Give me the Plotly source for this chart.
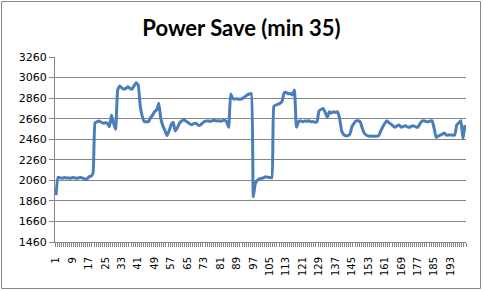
import plotly.graph_objects as go

title_text = "Power Save (min 35)"
categories = list(range(1, 201))
values = [
    1917, 2090, 2085, 2080, 2088, 2082, 2085, 2080, 2088, 2085,
    2080, 2085, 2088, 2082, 2075, 2068, 2095, 2100, 2130, 2620,
    2630, 2637, 2625, 2615, 2620, 2615, 2582, 2695, 2615, 2556,
    2939, 2978, 2960, 2946, 2955, 2970, 2955, 2946, 2980, 3010,
    2985, 2780, 2680, 2630, 2630, 2630, 2670, 2695, 2730, 2745,
    2810, 2660, 2590, 2545, 2494, 2540, 2598, 2625, 2540, 2570,
    2615, 2635, 2647, 2640, 2625, 2610, 2601, 2612, 2615, 2600,
    2595, 2612, 2630, 2635, 2640, 2632, 2640, 2645, 2638, 2640,
    2635, 2640, 2645, 2630, 2576, 2900, 2858, 2850, 2855, 2848,
    2850, 2860, 2875, 2890, 2900, 2906, 1900, 2030, 2060, 2075,
    2080, 2085, 2095, 2090, 2088, 2085, 2780, 2793, 2800, 2810,
    2830, 2910, 2916, 2900, 2906, 2890, 2940, 2576, 2630, 2640,
    2630, 2638, 2635, 2640, 2630, 2632, 2625, 2630, 2737, 2750,
    2760, 2720, 2673, 2727, 2715, 2727, 2720, 2727, 2663, 2540,
    2505, 2494, 2495, 2510, 2582, 2615, 2638, 2640, 2630, 2570,
    2520, 2500, 2490, 2492, 2488, 2490, 2488, 2494, 2540, 2580,
    2615, 2640, 2620, 2607, 2590, 2576, 2590, 2598, 2576, 2585,
    2590, 2580, 2576, 2588, 2590, 2580, 2576, 2607, 2635, 2640,
    2632, 2630, 2638, 2640, 2566, 2478, 2490, 2500, 2510, 2520,
    2500, 2500, 2500, 2500, 2500, 2598, 2620, 2640, 2468, 2598,
]
x_tick_values = list(range(1, 201, 8))
x_tick_labels = [str(v) for v in x_tick_values]
y_tick_values = list(range(1460, 3261, 200))

fig = go.Figure()
fig.add_trace(go.Scatter(
    x=categories, y=values, mode="lines",
    line=dict(color="#4A7EBB", width=3, shape="spline", smoothing=0.4),
    showlegend=False, hoverinfo="skip",
))

L, R, T, B = 55, 17, 57, 49
W, H = 483, 291
pw, ph = W - L - R, H - T - B

fig.update_layout(
    width=W, height=H,
    margin=dict(l=L, r=R, t=T, b=B),
    paper_bgcolor="white", plot_bgcolor="white",
    title=dict(text="<b>" + title_text + "</b>", x=0.5, xanchor="center",
               y=1 - 28 / H, yanchor="middle",
               font=dict(family="Lato", size=22, color="black")),
    xaxis=dict(
        range=[0.5, 200.5], tickmode="array", tickvals=x_tick_values,
        ticktext=x_tick_labels, tickangle=-90, ticks="",
        ticklabelstandoff=10,
        tickfont=dict(family="DejaVu Sans", size=10, color="black"),
        showgrid=False, zeroline=False,
        showline=True, linecolor="#868686", linewidth=1,
        minor=dict(ticks="outside", tick0=0.5, dtick=1, ticklen=4,
                   tickcolor="#868686", tickwidth=1, showgrid=False),
    ),
    yaxis=dict(
        range=[1460, 3260], tickmode="array", tickvals=y_tick_values,
        ticks="outside", ticklen=5, tickcolor="#868686",
        tickfont=dict(family="DejaVu Sans", size=11, color="black"),
        showgrid=True, gridcolor="#868686", gridwidth=1,
        zeroline=False, showline=True, linecolor="#868686", linewidth=1,
    ),
)

fig.add_shape(type="rect", xref="paper", yref="paper",
              x0=(1.5 - L) / pw, x1=(W - 2.5 - L) / pw,
              y0=-(B - 2.5) / ph,
              y1=1 + (T - 1.5) / ph,
              line=dict(color="#868686", width=1), layer="below")

fig.write_html("out.html")
